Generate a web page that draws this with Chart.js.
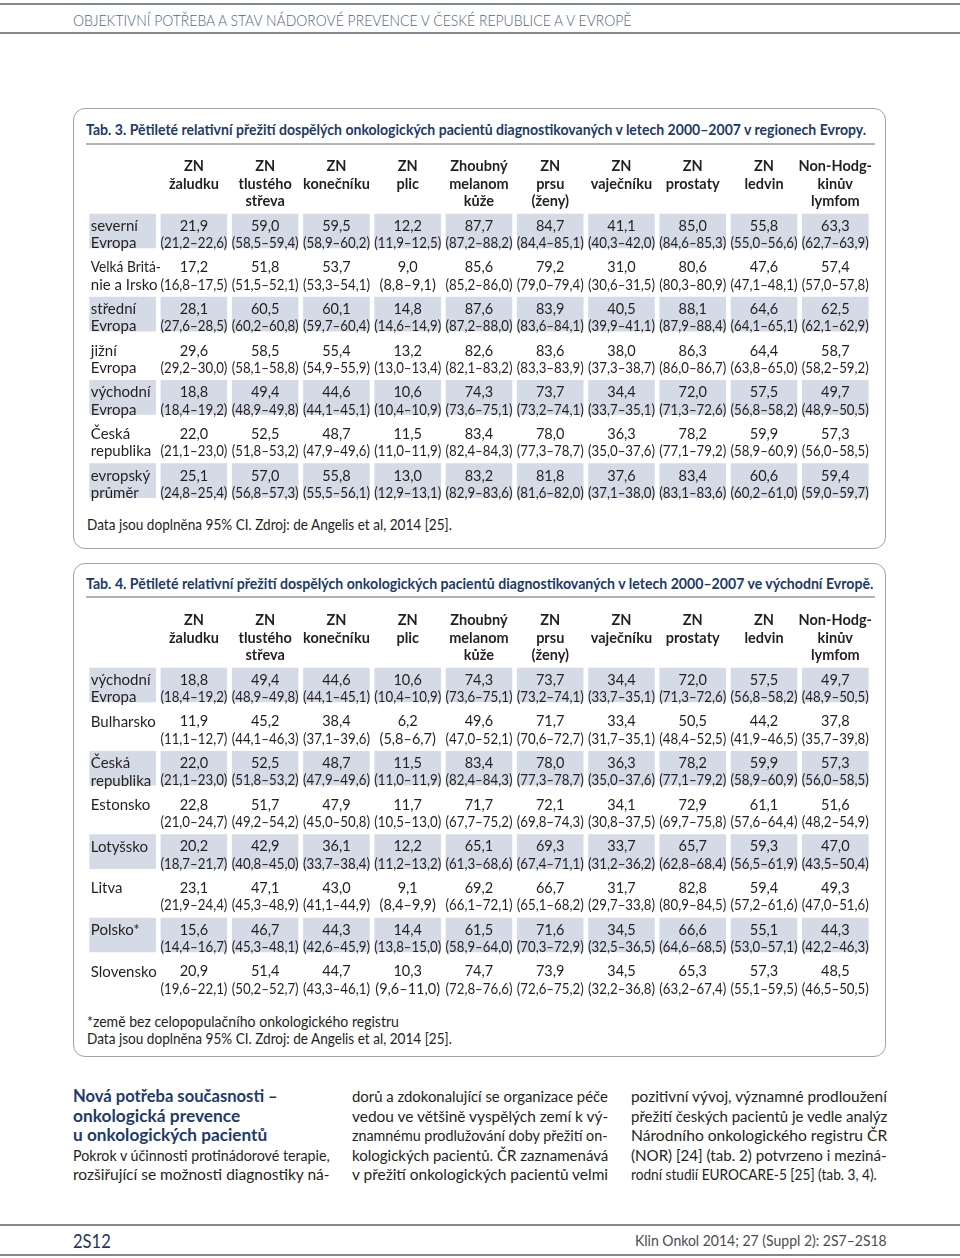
<!DOCTYPE html>
<html lang="cs">
<head>
<meta charset="utf-8">
<script src="https://cdn.jsdelivr.net/npm/chart.js@4.4.1/dist/chart.umd.min.js"></script>
<style>
  html, body { margin: 0; padding: 0; background: #fff; }
  body { width: 960px; height: 1258px; position: relative; overflow: hidden; font-family: Lato, "Noto Sans", sans-serif; color: #231f20; }
  .hline { position: absolute; left: 0; width: 960px; height: 2px; background: #7f8993; }
  .box { position: absolute; left: 73px; width: 813px; border: 1.5px solid #a3a3a3; border-radius: 12px; box-sizing: border-box; }
  .rule { position: absolute; left: 86px; width: 789px; height: 2px; background: #b3b3b3; }
  .t { position: absolute; white-space: nowrap; line-height: 20px; transform-origin: 0 50%; }
  .tab { position: absolute; left: 87px; }
</style>
</head>
<body>

<div class="hline" style="top:3px"></div>
<div class="hline" style="top:32px"></div>
<div class="hline" style="top:1224px"></div>
<div class="hline" style="top:1254px"></div>

<div class="box" style="top:108px;height:441px"></div>
<div class="rule" style="top:143px"></div>
<div class="tab" style="top:155px;width:788px;height:350px"><canvas id="tab3"></canvas></div>

<div class="box" style="top:563px;height:494px"></div>
<div class="rule" style="top:596px"></div>
<div class="tab" style="top:609px;width:788px;height:392px"><canvas id="tab4"></canvas></div>

<div id="texts"></div>

<script>
// ----- data -----
const columns = [
  ["ZN", "žaludku"], ["ZN", "tlustého", "střeva"], ["ZN", "konečníku"], ["ZN", "plic"],
  ["Zhoubný", "melanom", "kůže"], ["ZN", "prsu", "(ženy)"], ["ZN", "vaječníku"],
  ["ZN", "prostaty"], ["ZN", "ledvin"], ["Non-Hodg-", "kinův", "lymfom"]
];

// Tab. 3 – regiony Evropy
const t3Rows = [
  ["severní", "Evropa"], ["Velká Britá-", "nie a Irsko"], ["střední", "Evropa"], ["jižní", "Evropa"],
  ["východní", "Evropa"], ["Česká", "republika"], ["evropský", "průměr"]
];
const t3Est = [
  [21.9, 59.0, 59.5, 12.2, 87.7, 84.7, 41.1, 85.0, 55.8, 63.3],
  [17.2, 51.8, 53.7, 9.0, 85.6, 79.2, 31.0, 80.6, 47.6, 57.4],
  [28.1, 60.5, 60.1, 14.8, 87.6, 83.9, 40.5, 88.1, 64.6, 62.5],
  [29.6, 58.5, 55.4, 13.2, 82.6, 83.6, 38.0, 86.3, 64.4, 58.7],
  [18.8, 49.4, 44.6, 10.6, 74.3, 73.7, 34.4, 72.0, 57.5, 49.7],
  [22.0, 52.5, 48.7, 11.5, 83.4, 78.0, 36.3, 78.2, 59.9, 57.3],
  [25.1, 57.0, 55.8, 13.0, 83.2, 81.8, 37.6, 83.4, 60.6, 59.4]
];
const t3Lo = [
  [21.2, 58.5, 58.9, 11.9, 87.2, 84.4, 40.3, 84.6, 55.0, 62.7],
  [16.8, 51.5, 53.3, 8.8, 85.2, 79.0, 30.6, 80.3, 47.1, 57.0],
  [27.6, 60.2, 59.7, 14.6, 87.2, 83.6, 39.9, 87.9, 64.1, 62.1],
  [29.2, 58.1, 54.9, 13.0, 82.1, 83.3, 37.3, 86.0, 63.8, 58.2],
  [18.4, 48.9, 44.1, 10.4, 73.6, 73.2, 33.7, 71.3, 56.8, 48.9],
  [21.1, 51.8, 47.9, 11.0, 82.4, 77.3, 35.0, 77.1, 58.9, 56.0],
  [24.8, 56.8, 55.5, 12.9, 82.9, 81.6, 37.1, 83.1, 60.2, 59.0]
];
const t3Hi = [
  [22.6, 59.4, 60.2, 12.5, 88.2, 85.1, 42.0, 85.3, 56.6, 63.9],
  [17.5, 52.1, 54.1, 9.1, 86.0, 79.4, 31.5, 80.9, 48.1, 57.8],
  [28.5, 60.8, 60.4, 14.9, 88.0, 84.1, 41.1, 88.4, 65.1, 62.9],
  [30.0, 58.8, 55.9, 13.4, 83.2, 83.9, 38.7, 86.7, 65.0, 59.2],
  [19.2, 49.8, 45.1, 10.9, 75.1, 74.1, 35.1, 72.6, 58.2, 50.5],
  [23.0, 53.2, 49.6, 11.9, 84.3, 78.7, 37.6, 79.2, 60.9, 58.5],
  [25.4, 57.3, 56.1, 13.1, 83.6, 82.0, 38.0, 83.6, 61.0, 59.7]
];
const t3Shaded = [0, 2, 4, 6];

// Tab. 4 – východní Evropa
const t4Rows = [
  ["východní", "Evropa"], ["Bulharsko"], ["Česká", "republika"], ["Estonsko"],
  ["Lotyšsko"], ["Litva"], ["Polsko*"], ["Slovensko"]
];
const t4Est = [
  [18.8, 49.4, 44.6, 10.6, 74.3, 73.7, 34.4, 72.0, 57.5, 49.7],
  [11.9, 45.2, 38.4, 6.2, 49.6, 71.7, 33.4, 50.5, 44.2, 37.8],
  [22.0, 52.5, 48.7, 11.5, 83.4, 78.0, 36.3, 78.2, 59.9, 57.3],
  [22.8, 51.7, 47.9, 11.7, 71.7, 72.1, 34.1, 72.9, 61.1, 51.6],
  [20.2, 42.9, 36.1, 12.2, 65.1, 69.3, 33.7, 65.7, 59.3, 47.0],
  [23.1, 47.1, 43.0, 9.1, 69.2, 66.7, 31.7, 82.8, 59.4, 49.3],
  [15.6, 46.7, 44.3, 14.4, 61.5, 71.6, 34.5, 66.6, 55.1, 44.3],
  [20.9, 51.4, 44.7, 10.3, 74.7, 73.9, 34.5, 65.3, 57.3, 48.5]
];
const t4Lo = [
  [18.4, 48.9, 44.1, 10.4, 73.6, 73.2, 33.7, 71.3, 56.8, 48.9],
  [11.1, 44.1, 37.1, 5.8, 47.0, 70.6, 31.7, 48.4, 41.9, 35.7],
  [21.1, 51.8, 47.9, 11.0, 82.4, 77.3, 35.0, 77.1, 58.9, 56.0],
  [21.0, 49.2, 45.0, 10.5, 67.7, 69.8, 30.8, 69.7, 57.6, 48.2],
  [18.7, 40.8, 33.7, 11.2, 61.3, 67.4, 31.2, 62.8, 56.5, 43.5],
  [21.9, 45.3, 41.1, 8.4, 66.1, 65.1, 29.7, 80.9, 57.2, 47.0],
  [14.4, 45.3, 42.6, 13.8, 58.9, 70.3, 32.5, 64.6, 53.0, 42.2],
  [19.6, 50.2, 43.3, 9.6, 72.8, 72.6, 32.2, 63.2, 55.1, 46.5]
];
const t4Hi = [
  [19.2, 49.8, 45.1, 10.9, 75.1, 74.1, 35.1, 72.6, 58.2, 50.5],
  [12.7, 46.3, 39.6, 6.7, 52.1, 72.7, 35.1, 52.5, 46.5, 39.8],
  [23.0, 53.2, 49.6, 11.9, 84.3, 78.7, 37.6, 79.2, 60.9, 58.5],
  [24.7, 54.2, 50.8, 13.0, 75.2, 74.3, 37.5, 75.8, 64.4, 54.9],
  [21.7, 45.0, 38.4, 13.2, 68.6, 71.1, 36.2, 68.4, 61.9, 50.4],
  [24.4, 48.9, 44.9, 9.9, 72.1, 68.2, 33.8, 84.5, 61.6, 51.6],
  [16.7, 48.1, 45.9, 15.0, 64.0, 72.9, 36.5, 68.5, 57.1, 46.3],
  [22.1, 52.7, 46.1, 11.0, 76.6, 75.2, 36.8, 67.4, 59.5, 50.5]
];
const t4Shaded = [0, 2, 4, 6];

const CELL = "#d5dbe6";
const INK = "#231f20";
const NAVY = "#1c3a6a";

function num(v) { return v.toFixed(1).replace(".", ","); }

// squeeze a text horizontally when it is wider than the cell
function fitText(ctx, s, x, y, maxW) {
  const w = ctx.measureText(s).width;
  if (w <= maxW) { ctx.fillText(s, x, y); return; }
  ctx.save();
  ctx.translate(x, y);
  ctx.scale(maxW / w, 1);
  ctx.fillText(s, 0, 0);
  ctx.restore();
}

// ----- text in the cells, placed through the chart scales -----
const cellText = {
  id: "cellText",
  afterDatasetsDraw(chart) {
    const o = chart.options.plugins.cellText;
    const { ctx } = chart;
    const x = chart.scales.x, y = chart.scales.y;
    const colW = x.getPixelForValue(1) - x.getPixelForValue(0);
    ctx.save();
    ctx.fillStyle = INK;
    ctx.textBaseline = "middle";
    o.rows.forEach((label, r) => {
      const top = y.getPixelForValue(r - 0.5);
      const h = y.getPixelForValue(r + 0.5) - top;
      const l1 = top + h * 0.30, l2 = top + h * 0.715;
      ctx.textAlign = "left";
      const lx = x.getPixelForValue(0) - colW * 0.935 / 2 + 1.5;
      ctx.font = "15px Lato, 'Noto Sans', sans-serif";
      fitText(ctx, label[0], lx, l1, 70);
      if (label[1]) fitText(ctx, label[1], lx, l2, 70);
      ctx.font = "14.5px Lato, 'Noto Sans', sans-serif";
      ctx.textAlign = "center";
      o.est[r].forEach((v, c) => {
        const cx = x.getPixelForValue(c + 1);
        fitText(ctx, num(v), cx, l1, 67);
        fitText(ctx, "(" + num(o.lo[r][c]) + "–" + num(o.hi[r][c]) + ")", cx, l2, 67);
      });
    });
    ctx.restore();
  }
};

function makeTable(id, rows, est, lo, hi, shaded) {
  const labels = [""].concat(columns);
  const datasets = shaded.map(r => ({
    data: labels.map(() => [r - 0.5, r + 1 / 3]),
    backgroundColor: CELL,
    borderWidth: 0,
    borderSkipped: false,
    grouped: false,
    barPercentage: 0.935,
    categoryPercentage: 1
  }));
  return new Chart(document.getElementById(id), {
    type: "bar",
    data: { labels, datasets },
    options: {
      responsive: true,
      maintainAspectRatio: false,
      animation: false,
      layout: { padding: 0 },
      plugins: {
        legend: { display: false },
        tooltip: { enabled: false },
        cellText: { rows, est, lo, hi }
      },
      scales: {
        x: {
          position: "top",
          grid: { display: false, drawTicks: false },
          border: { display: false },
          ticks: {
            color: INK,
            font: { family: "Lato, 'Noto Sans', sans-serif", weight: "bold", size: 14.5, lineHeight: "17.5px" },
            padding: 3,
            crossAlign: "far",
            autoSkip: false,
            minRotation: 0,
            maxRotation: 0
          }
        },
        y: { type: "linear", reverse: true, min: -0.5, max: rows.length - 0.5, display: false }
      }
    },
    plugins: [cellText]
  });
}

makeTable("tab3", t3Rows, t3Est, t3Lo, t3Hi, t3Shaded);
makeTable("tab4", t4Rows, t4Est, t4Lo, t4Hi, t4Shaded);

// ----- page text -----
const texts = document.getElementById("texts");
function line(s, x, y, w, font, color) {
  const d = document.createElement("div");
  d.className = "t";
  d.textContent = s;
  d.style.left = x + "px";
  d.style.top = (y - 10) + "px";
  d.style.font = font;
  d.style.lineHeight = "20px";
  d.style.color = color || INK;
  texts.appendChild(d);
  if (w) d.style.transform = "scaleX(" + (w / d.offsetWidth) + ")";
}

const body = "15.5px Lato, 'Noto Sans', sans-serif";
const bold = "bold 16.5px Lato, 'Noto Sans', sans-serif";

line("OBJEKTIVNÍ POTŘEBA A STAV NÁDOROVÉ PREVENCE V ČESKÉ REPUBLICE A V EVROPĚ", 73, 20, 558, "300 16.5px Lato, sans-serif", "#55667a");

line("Tab. 3. Pětileté relativní přežití dospělých onkologických pacientů diagnostikovaných v letech 2000–2007 v regionech Evropy.", 86, 130, 780, "bold 14.5px Lato, sans-serif", NAVY);
line("Data jsou doplněna 95% CI. Zdroj: de Angelis et al, 2014 [25].", 87, 524, 365, "15px Lato, sans-serif");

line("Tab. 4. Pětileté relativní přežití dospělých onkologických pacientů diagnostikovaných v letech 2000–2007 ve východní Evropě.", 86, 584, 787, "bold 14.5px Lato, sans-serif", NAVY);
line("*země bez celopopulačního onkologického registru", 87, 1021, 312, "15px Lato, sans-serif");
line("Data jsou doplněna 95% CI. Zdroj: de Angelis et al, 2014 [25].", 87, 1038, 365, "15px Lato, sans-serif");

line("Nová potřeba současnosti –", 73, 1096, 205, bold, NAVY);
line("onkologická prevence", 73, 1116, 167, bold, NAVY);
line("u onkologických pacientů", 73, 1135, 194, bold, NAVY);
line("Pokrok v účinnosti protinádorové terapie,", 73, 1155, 257, body);
line("rozšiřující se možnosti diagnostiky ná-", 73, 1174, 257, body);

line("dorů a zdokonalující se organizace péče", 352, 1096, 256, body);
line("vedou ve většině vyspělých zemí k vý-", 352, 1116, 256, body);
line("znamnému prodlužování doby přežití on-", 352, 1135, 256, body);
line("kologických pacientů. ČR zaznamenává", 352, 1155, 256, body);
line("v přežití onkologických pacientů velmi", 352, 1174, 256, body);

line("pozitivní vývoj, významné prodloužení", 631, 1096, 256, body);
line("přežití českých pacientů je vedle analýz", 631, 1116, 256, body);
line("Národního onkologického registru ČR", 631, 1135, 256, body);
line("(NOR) [24] (tab. 2) potvrzeno i meziná-", 631, 1155, 256, body);
line("rodní studií EUROCARE-5 [25] (tab. 3, 4).", 631, 1174, 246, body);

line("2S12", 73, 1240, 38, "20px Lato, sans-serif", "#1d3557");
line("Klin Onkol 2014; 27 (Suppl 2): 2S7–2S18", 635, 1240, 252, "15.5px Lato, sans-serif", "#4d4d4d");
</script>
</body>
</html>
